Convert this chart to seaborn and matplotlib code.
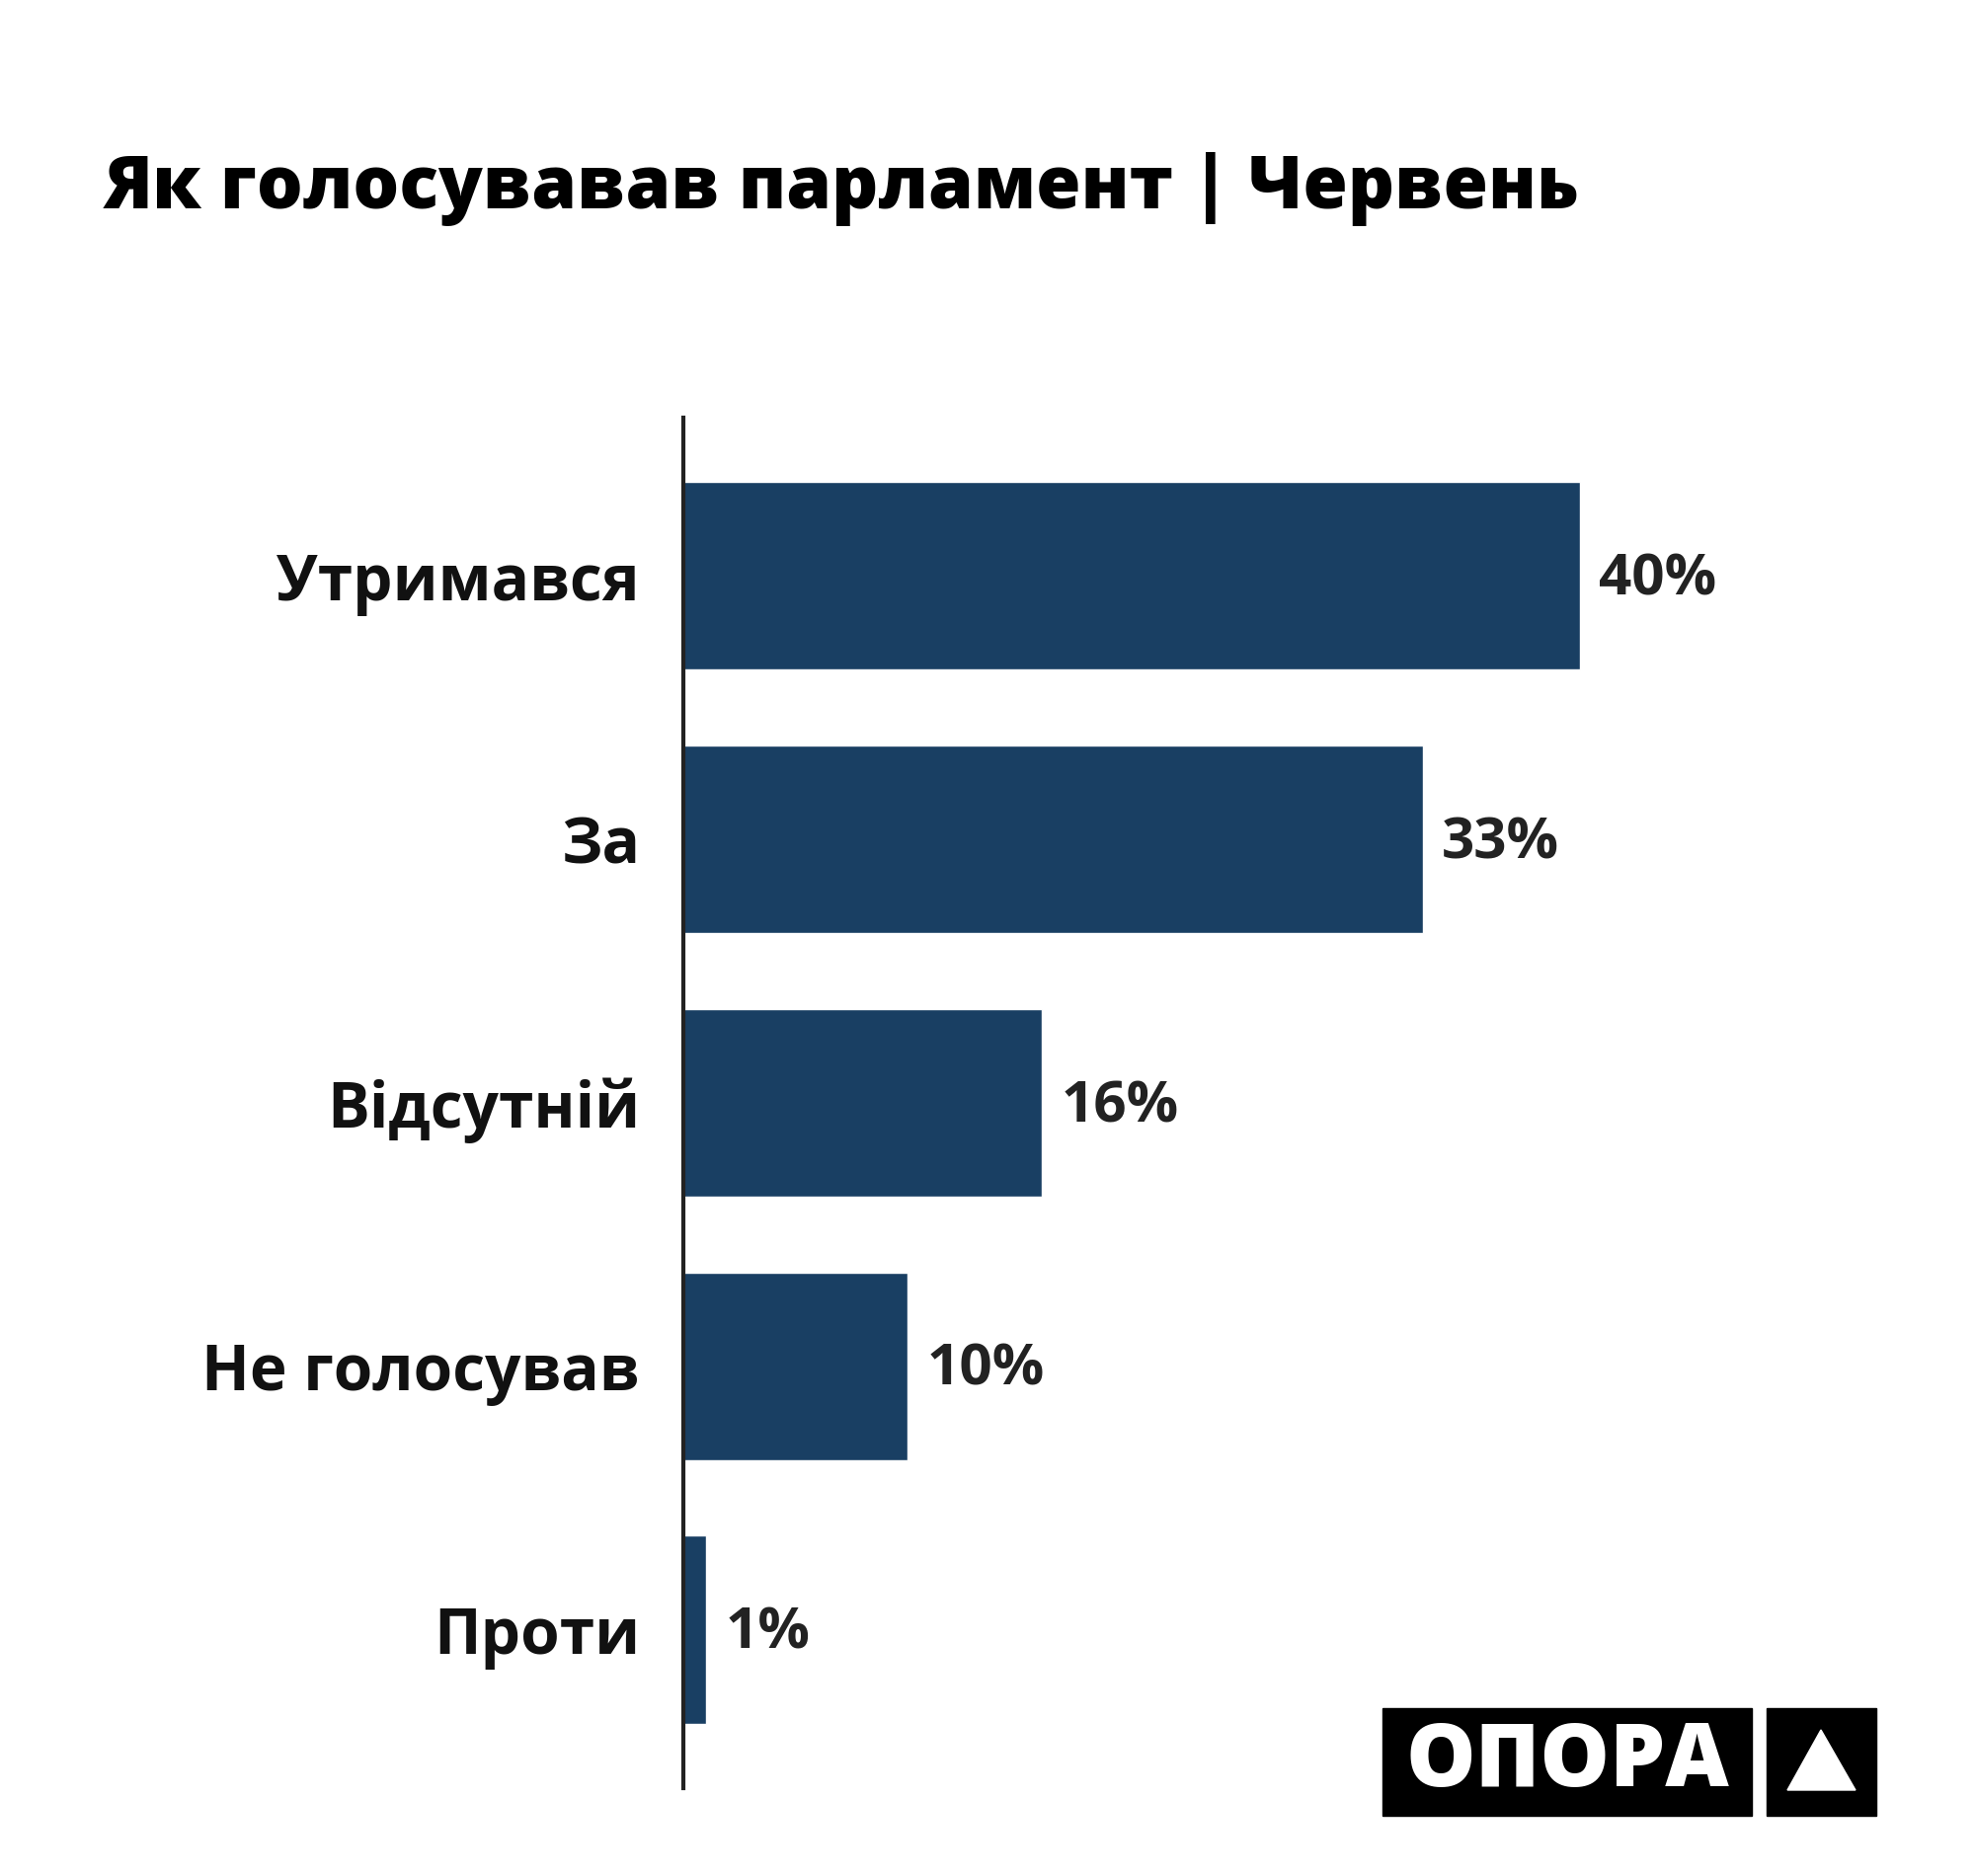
import matplotlib
matplotlib.use("Agg")
import matplotlib.pyplot as plt
import seaborn as sns
import pandas as pd
from matplotlib.patches import Rectangle, Polygon

# data
categories = ['Утримався', 'За', 'Відсутній', 'Не голосував', 'Проти']
values = [40, 33, 16, 10, 1]
value_labels = ['40%', '33%', '16%', '10%', '1%']
title = 'Як голосувавав парламент | Червень'

df = pd.DataFrame({'cat': categories, 'val': values})

sns.set_theme(style='white')
plt.rcParams['font.family'] = ['Open Sans', 'DejaVu Sans']

fig = plt.figure(figsize=(20, 19), dpi=100)
ax = fig.add_axes([0.3462, 0.0469, 0.567, 0.7305])

sns.barplot(data=df, x='val', y='cat', orient='h', color='#193f63',
            saturation=1, width=0.714, ax=ax)

ax.set_xlim(0, 50)
ax.set_ylim(4.6, -0.6)
ax.set_xlabel('')
ax.set_ylabel('')
ax.set_xticks([])
for s in ['top', 'right', 'bottom']:
    ax.spines[s].set_visible(False)
ax.spines['left'].set_color('#222222')
ax.spines['left'].set_linewidth(3)
ax.tick_params(axis='y', length=0, pad=32)
for t in ax.get_yticklabels():
    t.set_fontsize(46)
    t.set_fontweight('bold')
    t.set_color('#111111')

for i, (v, lab) in enumerate(zip(values, value_labels)):
    ax.annotate(lab, (v, i), xytext=(14, -3), textcoords='offset points',
                va='center', ha='left', fontsize=42, fontweight='bold',
                color='#222222')

fig.text(0.0525, 0.899, title, fontsize=53, fontweight='heavy',
         color='black', va='center', ha='left')

# logo
W, H = 2000, 1900
fig.patches.append(Rectangle((1400 / W, 1 - 1839 / H), 374 / W, 109 / H,
                             transform=fig.transFigure, color='black'))
fig.patches.append(Rectangle((1789 / W, 1 - 1839 / H), 111 / W, 109 / H,
                             transform=fig.transFigure, color='black'))
fig.patches.append(Polygon([(1810 / W, 1 - 1813 / H), (1879 / W, 1 - 1813 / H),
                            (1844 / W, 1 - 1752 / H)],
                           closed=True, transform=fig.transFigure, color='white'))
fig.text(1587 / W, 1 - 1786 / H, 'ОПОРА', fontsize=64, fontweight='heavy',
         color='white', ha='center', va='center')

fig.savefig('out.png', dpi=100, facecolor='white')
